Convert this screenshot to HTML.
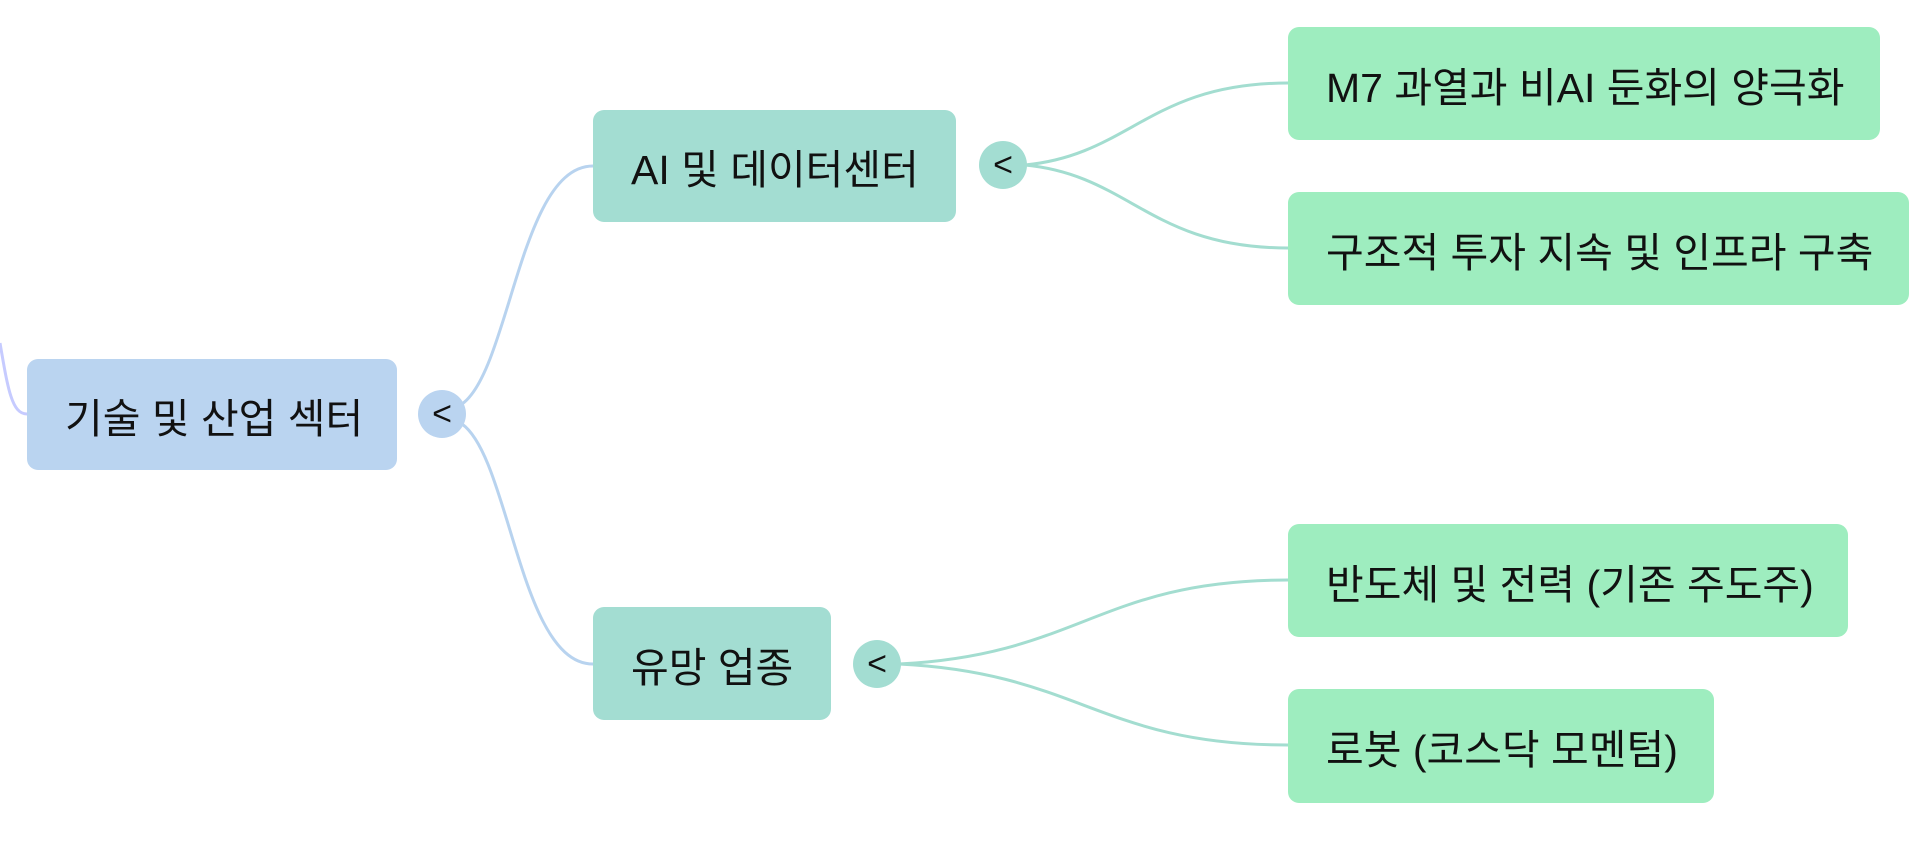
<!DOCTYPE html>
<html><head><meta charset="utf-8"><style>
html,body{margin:0;padding:0;background:#fff;width:1920px;height:853px;overflow:hidden;position:relative;font-family:"Liberation Sans","Noto Sans CJK KR",sans-serif;}
.b{position:absolute;border-radius:11px;box-sizing:border-box;display:flex;align-items:center;padding-left:38px;font-size:41px;color:#111;white-space:nowrap;}
.r{background:#bad4f0;}
.m{background:#a3ddd2;}
.l{background:#9eedbf;}
.c{position:absolute;width:48px;height:48px;border-radius:50%;display:flex;align-items:center;justify-content:center;font-size:34px;color:#111;}
svg{position:absolute;left:0;top:0;}
</style></head><body>
<svg width="1920" height="853" fill="none" stroke-width="3">
<path d="M0 343 C8 390 12 414 27 414" stroke="#c6cbff"/>
<path d="M462 404 C510 370 520 166 593 166" stroke="#b8d3ef"/>
<path d="M462 424 C510 458 520 664 593 664" stroke="#b8d3ef"/>
<path d="M1025 165 C1130 155 1150 83 1288 83" stroke="#a3ddd0"/>
<path d="M1025 165 C1130 175 1150 248 1288 248" stroke="#a3ddd0"/>
<path d="M899 664 C1080 655 1100 580 1288 580" stroke="#a3ddd0"/>
<path d="M899 664 C1080 673 1100 745 1288 745" stroke="#a3ddd0"/>
</svg>
<div class="b r" style="left:27px;top:359px;width:370px;height:111px;">기술 및 산업 섹터</div>
<div class="c" style="left:418px;top:390px;background:#bad4f0;">&lt;</div>
<div class="b m" style="left:593px;top:110px;width:363px;height:112px;">AI 및 데이터센터</div>
<div class="c" style="left:979px;top:141px;background:#a3ddd2;">&lt;</div>
<div class="b m" style="left:593px;top:607px;width:238px;height:113px;">유망 업종</div>
<div class="c" style="left:853px;top:640px;background:#a3ddd2;">&lt;</div>
<div class="b l" style="left:1288px;top:27px;width:592px;height:113px;">M7 과열과 비AI 둔화의 양극화</div>
<div class="b l" style="left:1288px;top:192px;width:621px;height:113px;">구조적 투자 지속 및 인프라 구축</div>
<div class="b l" style="left:1288px;top:524px;width:560px;height:113px;">반도체 및 전력 (기존 주도주)</div>
<div class="b l" style="left:1288px;top:689px;width:426px;height:114px;">로봇 (코스닥 모멘텀)</div>
</body></html>
